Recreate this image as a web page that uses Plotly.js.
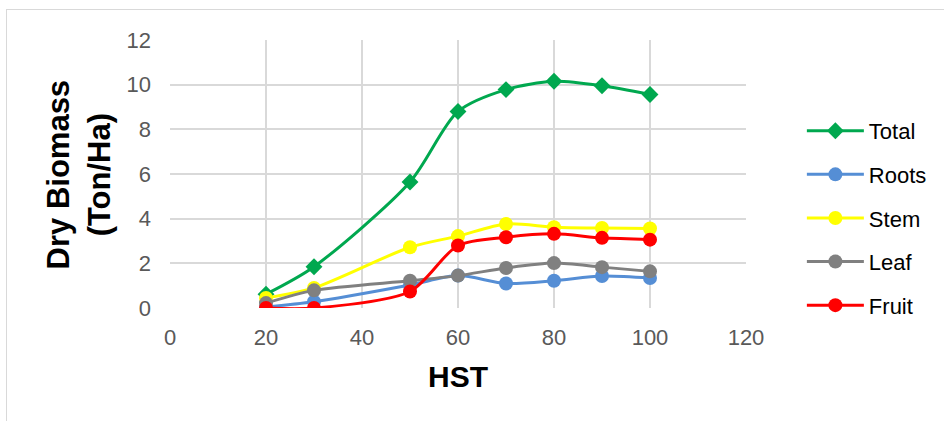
<!DOCTYPE html>
<html>
<head>
<meta charset="utf-8">
<script src="https://cdn.plot.ly/plotly-3.0.1.min.js"></script>
<style>
  html, body { margin: 0; padding: 0; background: #fff; }
  #wrap { position: relative; width: 944px; height: 421px; overflow: hidden; }
  #frame { position: absolute; left: 6px; top: 9px; width: 1000px; height: 1000px; border: 1px solid #d9d9d9; pointer-events: none; }
  #chart { width: 944px; height: 421px; }
</style>
</head>
<body>
<div id="wrap">
  <div id="chart"></div>
  <div id="frame"></div>
</div>
<script>
const hst = [20, 30, 50, 60, 70, 80, 90, 100];
const totalVals = [0.62, 1.85, 5.64, 8.8, 9.78, 10.15, 9.95, 9.56];
const rootsVals = [0.05, 0.28, 1.03, 1.45, 1.1, 1.22, 1.43, 1.34];
const stemVals  = [0.45, 0.9, 2.72, 3.22, 3.76, 3.62, 3.58, 3.56];
const leafVals  = [0.22, 0.79, 1.22, 1.45, 1.79, 2.01, 1.83, 1.64];
const fruitVals = [0.0, 0.0, 0.74, 2.8, 3.17, 3.32, 3.14, 3.06];
const seriesNames = ['Total', 'Roots', 'Stem', 'Leaf', 'Fruit'];
const xTicks = [0, 20, 40, 60, 80, 100, 120];
const yTicks = [0, 2, 4, 6, 8, 10, 12];
const xTitle = 'HST';
const yTitle = 'Dry Biomass<br>(Ton/Ha)';

const colors = ['#00a84f', '#558ed5', '#ffff00', '#808080', '#ff0000'];
const symbols = ['diamond', 'circle', 'circle', 'circle', 'circle'];
const sizes = [13, 14, 14, 14, 14];
const vals = [totalVals, rootsVals, stemVals, leafVals, fruitVals];

const traces = seriesNames.map((name, i) => ({
  type: 'scatter',
  mode: 'lines+markers',
  name: name,
  x: hst,
  y: vals[i],
  line: { color: colors[i], width: 3, shape: 'spline', smoothing: 0.8 },
  marker: { color: colors[i], symbol: symbols[i], size: sizes[i] },
  legendgroup: 'g' + i
}));

const FONT = 'Liberation Sans, Arial, sans-serif';
const tickFont = { family: FONT, size: 22, color: '#595959' };

const layout = {
  width: 944,
  height: 421,
  margin: { l: 170, r: 196, t: 40, b: 113 },
  paper_bgcolor: '#ffffff',
  plot_bgcolor: '#ffffff',
  showlegend: true,
  legend: {
    x: 1.097, xanchor: 'left',
    y: 0.336, yanchor: 'middle',
    font: { family: FONT, size: 22, color: '#000000' },
    traceorder: 'grouped',
    tracegroupgap: 12,
    itemwidth: 57,
    bgcolor: 'rgba(0,0,0,0)'
  },
  xaxis: {
    range: [0, 120],
    tickvals: xTicks,
    ticktext: xTicks.map(String),
    showgrid: true,
    gridcolor: '#d9d9d9',
    gridwidth: 2,
    zeroline: false,
    showline: false,
    ticks: '',
    tickfont: tickFont,
    ticklabelstandoff: 14,
    fixedrange: true
  },
  yaxis: {
    range: [0, 12],
    tickvals: yTicks,
    ticktext: yTicks.map(String),
    showgrid: true,
    gridcolor: '#d9d9d9',
    gridwidth: 2,
    zeroline: false,
    showline: false,
    ticks: '',
    tickfont: tickFont,
    ticklabelstandoff: 18,
    fixedrange: true
  },
  annotations: [
    {
      text: xTitle, xref: 'paper', yref: 'paper', x: 0.5, y: -0.255,
      xanchor: 'center', yanchor: 'middle', showarrow: false,
      font: { family: FONT, size: 30, color: '#000000', weight: 'bold' }
    },
    {
      text: yTitle, xref: 'paper', yref: 'paper', x: -0.159, y: 0.5,
      xanchor: 'center', yanchor: 'middle', showarrow: false, textangle: -90,
      font: { family: FONT, size: 31, color: '#000000', weight: 'bold' }
    }
  ]
};

Plotly.newPlot('chart', traces, layout, { displayModeBar: false, staticPlot: true });
</script>
</body>
</html>
